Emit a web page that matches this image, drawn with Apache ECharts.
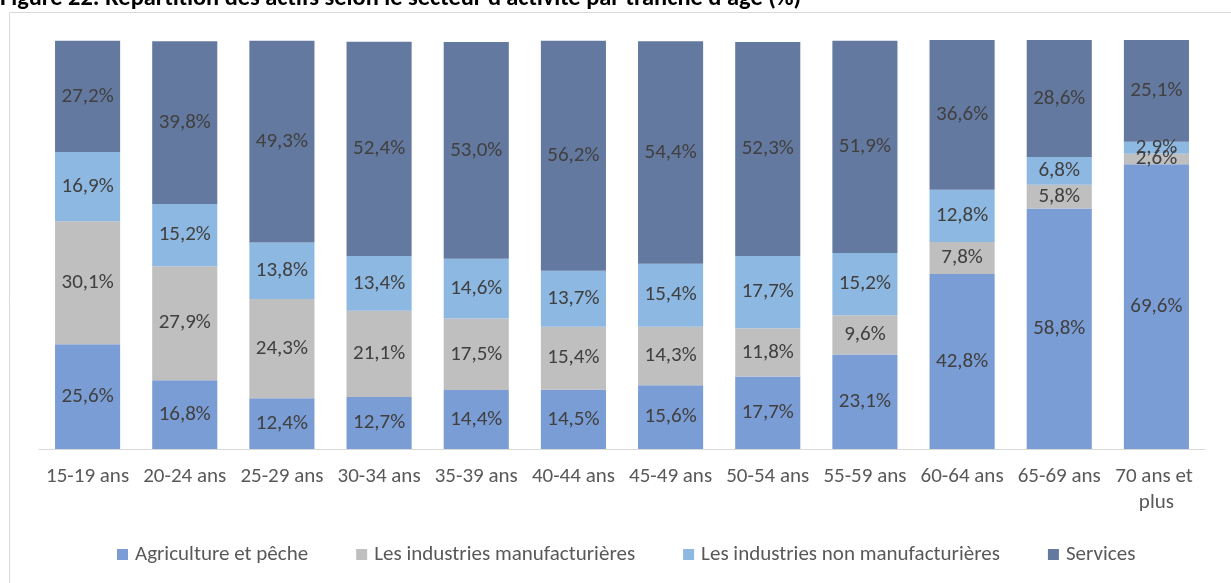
<!DOCTYPE html>
<html><head><meta charset="utf-8">
<script src="https://cdn.jsdelivr.net/npm/echarts@6/dist/echarts.min.js"></script>
<style>html,body{margin:0;padding:0;background:#fff}#c{width:1231px;height:583px}</style>
</head><body><div id="c"></div>
<script>
const categories = ['15-19 ans','20-24 ans','25-29 ans','30-34 ans','35-39 ans','40-44 ans','45-49 ans','50-54 ans','55-59 ans','60-64 ans','65-69 ans','70 ans et plus'];
const agriculture = [25.6,16.8,12.4,12.7,14.4,14.5,15.6,17.7,23.1,42.8,58.8,69.6];
const manufacturieres = [30.1,27.9,24.3,21.1,17.5,15.4,14.3,11.8,9.6,7.8,5.8,2.6];
const nonManufacturieres = [16.9,15.2,13.8,13.4,14.6,13.7,15.4,17.7,15.2,12.8,6.8,2.9];
const services = [27.2,39.8,49.3,52.4,53.0,56.2,54.4,52.3,51.9,36.6,28.6,25.1];
const seriesNames = ['Agriculture et pêche','Les industries manufacturières','Les industries non manufacturières','Services'];
const colors = ['#7b9dd5','#bfbfbf','#8db8e1','#6479a0'];
const FONT = "Carlito, 'Liberation Sans Narrow', 'Open Sans', sans-serif";
const chart = echarts.init(document.getElementById('c'));
const fmt = p => p.value.toFixed(1).replace('.', ',') + '%';
const data = [agriculture, manufacturieres, nonManufacturieres, services];
chart.setOption({
  animation:false,
  textStyle:{fontFamily:FONT},
  graphic:[
    {type:'rect', shape:{x:9.5,y:12.5,width:1300,height:700}, style:{fill:'none',stroke:'#d9d9d9',lineWidth:1}},
    {type:'text', x:0, y:11, style:{text:"Figure 22: Répartition des actifs selon le secteur d'activité par tranche d'âge (%)", font:"bold 24.4px "+FONT, fill:'#000', verticalAlign:'bottom'}}
  ],
  grid:{left:39,right:26,top:40,bottom:134},
  legend:{top:539,left:112,itemWidth:11,itemHeight:11,itemGap:48,icon:'rect',
    textStyle:{fontSize:21,color:'#595959',fontFamily:FONT,padding:[0,0,0,2]}},
  xAxis:{type:'category',data:categories,
    axisLine:{lineStyle:{color:'#d9d9d9'}},axisTick:{show:false},
    axisLabel:{interval:0,fontSize:21,color:'#595959',margin:15,width:90,overflow:'break',lineHeight:26,fontFamily:FONT}},
  yAxis:{type:'value',min:0,max:100,show:false,splitLine:{show:false}},
  series: seriesNames.map((n,i)=>({
    name:n,type:'bar',stack:'all',barWidth:'67%',data:data[i],
    itemStyle:{color:colors[i]},
    label:{show:true,position:'inside',formatter:fmt,fontSize:21,color:'#404040',fontFamily:FONT}
  }))
});
</script></body></html>
